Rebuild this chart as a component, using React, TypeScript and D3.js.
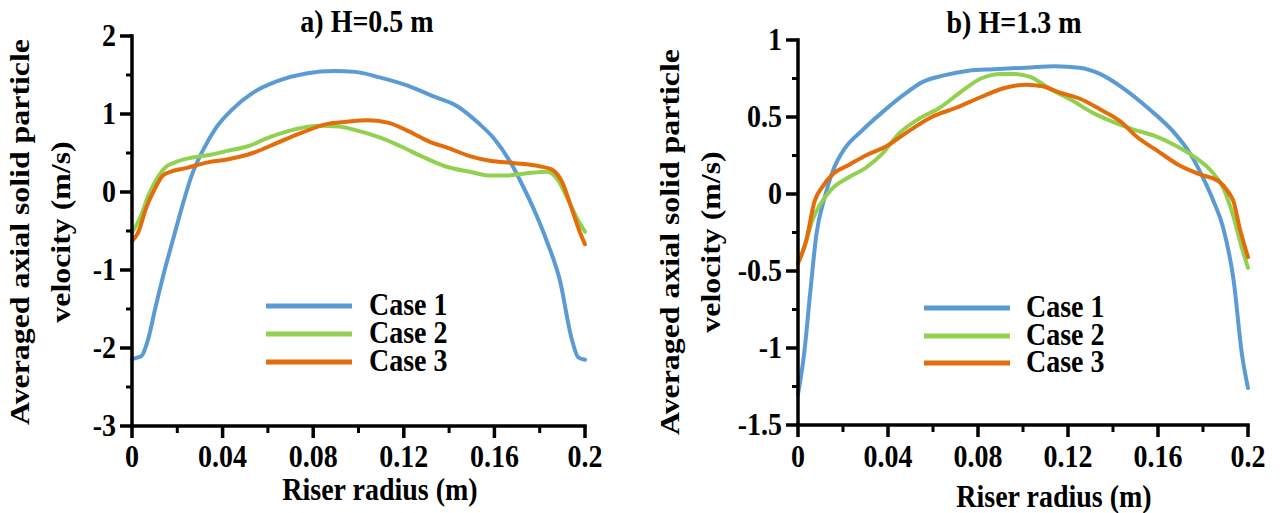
import React from "react";
import * as d3 from "d3";

// ---------- data ----------
const seriesNames = ["Case 1", "Case 2", "Case 3"];
const seriesColors = ["#5B9BD5", "#92D050", "#E46C0A"];
const xTicks = [0, 0.04, 0.08, 0.12, 0.16, 0.2];
const xTickLabels = ["0", "0.04", "0.08", "0.12", "0.16", "0.2"];
const xMinorTicks = [0.02, 0.06, 0.1, 0.14, 0.18];

const aYTicks = [2, 1, 0, -1, -2, -3];
const aYTickLabels = ["2", "1", "0", "-1", "-2", "-3"];
const aYMinorTicks = [1.5, 0.5, -0.5, -1.5, -2.5];
const bYTicks = [1, 0.5, 0, -0.5, -1, -1.5];
const bYTickLabels = ["1", "0.5", "0", "-0.5", "-1", "-1.5"];
const bYMinorTicks = [0.75, 0.25, -0.25, -0.75, -1.25];

// Panel a) H=0.5 m
const aCase1R = [0, 0.0027, 0.0043, 0.0072, 0.0102, 0.0138, 0.0182, 0.0227, 0.0262, 0.0316, 0.037, 0.0443, 0.0533, 0.0641, 0.0768, 0.0894, 0.0985, 0.1093, 0.122, 0.1328, 0.1436, 0.1527, 0.16, 0.1671, 0.1725, 0.178, 0.1834, 0.1888, 0.1942, 0.197, 0.2];
const aCase1V = [-2.14, -2.12, -2.1, -1.88, -1.5, -1.07, -0.6, -0.13, 0.2, 0.55, 0.82, 1.06, 1.27, 1.42, 1.52, 1.55, 1.54, 1.47, 1.36, 1.23, 1.1, 0.89, 0.68, 0.38, 0.08, -0.26, -0.65, -1.12, -1.89, -2.12, -2.15];
const aCase2R = [0, 0.0036, 0.0072, 0.0108, 0.0145, 0.019, 0.0262, 0.0352, 0.0425, 0.0515, 0.0605, 0.0714, 0.0822, 0.0912, 0.1003, 0.1093, 0.1183, 0.1292, 0.1382, 0.1491, 0.1581, 0.1653, 0.1743, 0.1834, 0.1879, 0.1924, 0.196, 0.2];
const aCase2V = [-0.52, -0.33, -0.05, 0.16, 0.31, 0.38, 0.44, 0.48, 0.53, 0.59, 0.7, 0.8, 0.85, 0.84, 0.78, 0.7, 0.59, 0.44, 0.33, 0.26, 0.21, 0.21, 0.24, 0.26, 0.16, -0.09, -0.31, -0.51];
const aCase3R = [0, 0.0027, 0.0063, 0.0099, 0.0136, 0.0172, 0.0244, 0.0334, 0.0425, 0.0533, 0.0641, 0.075, 0.0858, 0.0949, 0.1039, 0.1129, 0.122, 0.131, 0.14, 0.1491, 0.1581, 0.1689, 0.1798, 0.1852, 0.1897, 0.1942, 0.1978, 0.2];
const aCase3V = [-0.63, -0.52, -0.2, 0.03, 0.21, 0.26, 0.31, 0.38, 0.42, 0.5, 0.63, 0.76, 0.87, 0.9, 0.92, 0.89, 0.78, 0.65, 0.56, 0.46, 0.4, 0.37, 0.33, 0.29, 0.14, -0.22, -0.52, -0.67];

// Panel b) H=1.3 m
const bCase1R = [0, 0.0027, 0.0055, 0.0082, 0.0119, 0.0155, 0.021, 0.0283, 0.0374, 0.0466, 0.0557, 0.0648, 0.0758, 0.0868, 0.1014, 0.1142, 0.1251, 0.1342, 0.1452, 0.1562, 0.1671, 0.1744, 0.1799, 0.1845, 0.189, 0.1936, 0.1973, 0.2];
const bCase1V = [-1.3, -1.04, -0.63, -0.26, -0.02, 0.15, 0.3, 0.41, 0.53, 0.64, 0.73, 0.77, 0.8, 0.81, 0.82, 0.83, 0.82, 0.78, 0.68, 0.55, 0.4, 0.26, 0.11, -0.04, -0.22, -0.56, -1.04, -1.26];
const bCase2R = [0, 0.0027, 0.0064, 0.01, 0.0155, 0.0228, 0.0301, 0.0374, 0.0447, 0.0539, 0.063, 0.0721, 0.0813, 0.0904, 0.0959, 0.1032, 0.1123, 0.1215, 0.1306, 0.1397, 0.1489, 0.158, 0.1671, 0.1763, 0.1836, 0.189, 0.1936, 0.1973, 0.2];
const bCase2V = [-0.45, -0.35, -0.17, -0.065, 0.04, 0.11, 0.17, 0.26, 0.39, 0.49, 0.56, 0.66, 0.75, 0.78, 0.78, 0.76, 0.68, 0.61, 0.53, 0.47, 0.42, 0.38, 0.32, 0.24, 0.15, 0.04, -0.15, -0.35, -0.48];
const bCase3R = [0, 0.0037, 0.0073, 0.011, 0.0155, 0.0228, 0.0301, 0.0393, 0.0484, 0.0594, 0.0703, 0.0813, 0.0922, 0.1014, 0.1087, 0.116, 0.1251, 0.1342, 0.1434, 0.1507, 0.1598, 0.169, 0.1781, 0.1872, 0.1909, 0.1936, 0.1963, 0.2];
const bCase3V = [-0.45, -0.3, -0.05, 0.05, 0.13, 0.19, 0.25, 0.31, 0.4, 0.5, 0.56, 0.63, 0.69, 0.71, 0.7, 0.66, 0.62, 0.55, 0.47, 0.37, 0.28, 0.19, 0.13, 0.08, 0.02, -0.05, -0.22, -0.41];

const FONT = "'Liberation Serif','Times New Roman',Times,serif";
const STRETCH = 1.1;

type TProps = { x: number; y: number; anchor?: string; size?: number; children: React.ReactNode };
const T = ({ x, y, anchor = "middle", size = 28, children }: TProps) => (
  <text
    transform={`translate(${x},${y}) scale(1,${STRETCH})`}
    textAnchor={anchor}
    fontFamily={FONT}
    fontWeight="bold"
    fontSize={size}
    fill="#000"
  >
    {children}
  </text>
);

const VT = ({ x, y, children }: { x: number; y: number; children: React.ReactNode }) => (
  <text
    transform={`translate(${x},${y}) scale(1,1.18) rotate(-90)`}
    textAnchor="middle"
    fontFamily={FONT}
    fontWeight="bold"
    fontSize={27}
    fill="#000"
  >
    {children}
  </text>
);

type PanelProps = {
  x0: number; x1: number; yTop: number; yBot: number;
  yDomain: [number, number];
  yTicks: number[]; yTickLabels: string[]; yMinor: number[];
  series: { r: number[]; v: number[] }[];
  title: string; titleX: number; titleY: number;
  xTitleX: number; xTitleY: number;
  yTitle1X: number; yTitle2X: number; yTitleY: number;
  legX0: number; legX1: number; legTextX: number; legY: number[];
};

function Panel(p: PanelProps) {
  const x = d3.scaleLinear().domain([0, 0.2]).range([p.x0, p.x1]);
  const y = d3.scaleLinear().domain(p.yDomain).range([p.yBot, p.yTop]);
  const line = d3
    .line<[number, number]>()
    .x((d) => x(d[0]))
    .y((d) => y(d[1]))
    .curve(d3.curveMonotoneX);
  const axisW = 3.5;
  return (
    <g>
      {p.series.map((s, i) => (
        <path
          key={i}
          d={line(s.r.map((r, j) => [r, s.v[j]] as [number, number])) || ""}
          fill="none"
          stroke={seriesColors[i]}
          strokeWidth={4}
          strokeLinejoin="round"
          strokeLinecap="round"
        />
      ))}
      {/* y axis */}
      <line x1={p.x0} x2={p.x0} y1={y(p.yDomain[1]) - axisW / 2} y2={p.yBot + axisW / 2} stroke="#000" strokeWidth={axisW} />
      {p.yTicks.map((t, i) => (
        <g key={"yt" + i}>
          <line x1={p.x0 - 12} x2={p.x0} y1={y(t)} y2={y(t)} stroke="#000" strokeWidth={3.5} />
          <T x={p.x0 - 16} y={y(t) + 10} anchor="end">{p.yTickLabels[i]}</T>
        </g>
      ))}
      {p.yMinor.map((t, i) => (
        <line key={"ym" + i} x1={p.x0 - 6} x2={p.x0} y1={y(t)} y2={y(t)} stroke="#000" strokeWidth={3} />
      ))}
      {/* x axis */}
      <line x1={p.x0 - axisW / 2} x2={p.x1 + axisW / 2} y1={p.yBot} y2={p.yBot} stroke="#000" strokeWidth={axisW} />
      {xTicks.map((t, i) => (
        <g key={"xt" + i}>
          <line x1={x(t)} x2={x(t)} y1={p.yBot} y2={p.yBot + 12} stroke="#000" strokeWidth={3.5} />
          <T x={x(t)} y={467}>{xTickLabels[i]}</T>
        </g>
      ))}
      {xMinorTicks.map((t, i) => (
        <line key={"xm" + i} x1={x(t)} x2={x(t)} y1={p.yBot} y2={p.yBot + 7} stroke="#000" strokeWidth={3} />
      ))}
      <T x={p.titleX} y={p.titleY}>{p.title}</T>
      <T x={p.xTitleX} y={p.xTitleY}>Riser radius (m)</T>
      <VT x={p.yTitle1X} y={p.yTitleY}>Averaged axial solid particle</VT>
      <VT x={p.yTitle2X} y={p.yTitleY}>velocity (m/s)</VT>
      {seriesNames.map((n, i) => (
        <g key={"lg" + i}>
          <line x1={p.legX0} x2={p.legX1} y1={p.legY[i]} y2={p.legY[i]} stroke={seriesColors[i]} strokeWidth={5} />
          <T x={p.legTextX} y={p.legY[i] + 9} anchor="start">{n}</T>
        </g>
      ))}
    </g>
  );
}

export default function App() {
  return (
    <svg
      width={1283}
      height={513}
      style={{ position: "absolute", left: 0, top: 0, background: "#fff" }}
    >
      <rect width={1283} height={513} fill="#fff" />
      <Panel
        x0={132} x1={585} yTop={36} yBot={426}
        yDomain={[-3, 2]}
        yTicks={aYTicks} yTickLabels={aYTickLabels} yMinor={aYMinorTicks}
        series={[{ r: aCase1R, v: aCase1V }, { r: aCase2R, v: aCase2V }, { r: aCase3R, v: aCase3V }]}
        title="a) H=0.5 m" titleX={367} titleY={32}
        xTitleX={380} xTitleY={500}
        yTitle1X={29} yTitle2X={70} yTitleY={232}
        legX0={266} legX1={352} legTextX={369} legY={[306, 334, 362]}
      />
      <Panel
        x0={798} x1={1248} yTop={40} yBot={425}
        yDomain={[-1.5, 1]}
        yTicks={bYTicks} yTickLabels={bYTickLabels} yMinor={bYMinorTicks}
        series={[{ r: bCase1R, v: bCase1V }, { r: bCase2R, v: bCase2V }, { r: bCase3R, v: bCase3V }]}
        title="b) H=1.3 m" titleX={1014} titleY={33}
        xTitleX={1054} xTitleY={507}
        yTitle1X={679} yTitle2X={720} yTitleY={242}
        legX0={924} legX1={1010} legTextX={1026} legY={[308, 336, 363]}
      />
    </svg>
  );
}
